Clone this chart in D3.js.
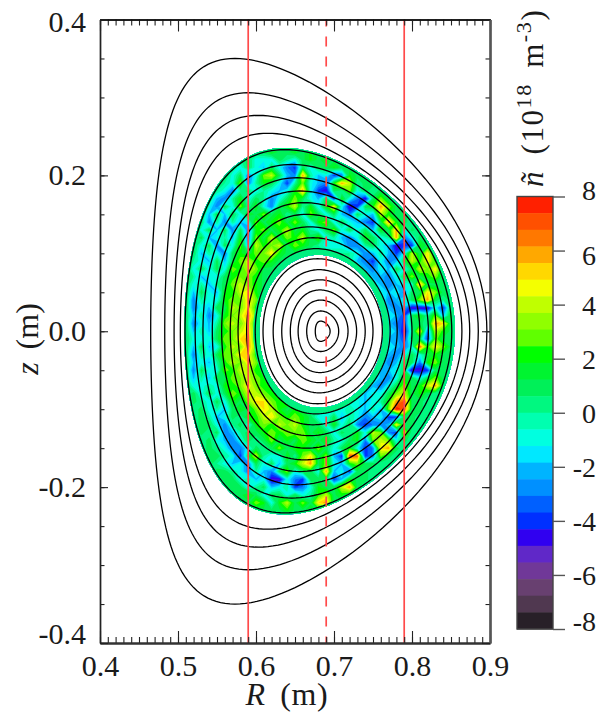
<!DOCTYPE html>
<html><head><meta charset="utf-8">
<script src="https://cdn.jsdelivr.net/npm/d3@7"></script>
<style>html,body{margin:0;background:#fff}svg{display:block}text{font-family:"Liberation Serif",serif;fill:#1a1a1a}</style>
</head><body><svg id="c" width="599" height="715"></svg>
<script>
// Flux surfaces, outer to inner (metres)
const ringLeftR  = [.465,.483,.495,.503,.509,.522,.532,.544,.556,.567,.577,.588,.599,.609,.622,.633,.644,.654,.665,.676];
const ringRightR = [.896,.885,.874,.864,.851,.841,.831,.821,.810,.800,.791,.781,.772,.762,.750,.740,.729,.718,.706,.695];
const ringTopZ   = [.350,.306,.277,.254,.233,.214,.197,.180,.165,.150,.134,.120,.106,.093,.079,.066,.053,.040,.026,.013];
const ringPeakR  = [.573,.590,.603,.615,.637,.646,.653,.656,.662,.665,.669,.673,.677,.679,.681,.682,.682,.683,.683,.683];
// Edges of the coloured region: [left R, right R, top z, R at top]
const fieldOuterEdge = [.508,.855,.235,.637];
const fieldInnerEdge = [.604,.763,.098,.680];
// Chords
const chordsSolid = [.59,.79];
const chordsDashed = [.69];
// Ticks
const xMajor = [.4,.5,.6,.7,.8,.9];
const yMajor = [-.4,-.2,0,.2,.4];
const barTicks = [8,6,4,2,0,-2,-4,-6,-8];
// Colour bar bands, top (high) to bottom (low)
const bandColors = ["#ff2000","#ff5000","#ff7800","#ffa800","#ffd800","#f4ff00","#c0ff00","#90ff00","#60ff00","#00ff00","#00f430","#00f058","#00f880","#00ffb0","#00ffe0","#00e8ff","#00b4ff","#0090ff","#0060ff","#0030ff","#3000f0","#6028c8","#703898","#684070","#503850","#282028"];
// Density field: rows from z=+0.24 down in 0.01 m steps, columns from R=0.51 in 0.01 m steps
const fieldR0 = .51, fieldZ0 = .24, fieldStep = .01, fieldCols = 36;
const fieldRows = [
[],
[0,0,0,0,0,0,0,0,1,1,1,2,1,1,2,1,2,1,1],
[0,0,0,0,0,0,1,0,1,-1,-1,-1,1,0,-1,1,2,1,2,1,1],
[0,0,0,0,0,1,0,-1,1,-1,-2,1,-1,-3,-4,1,-1,1,1,2,1,1],
[0,0,0,0,1,1,-1,1,-3,-1,3,4,1,-2,-3,6,0,-2,-1,-4,-3,2,1,1],
[0,0,0,0,1,0,-1,3,-3,0,2,1,-1,-4,0,3,-1,-2,-3,2,6,4,0,1,1],
[0,0,0,1,0,-1,-3,0,1,-1,0,-1,-2,-1,2,6,-1,-4,-5,1,0,3,-1,1,0,1],
[0,0,0,0,-2,-3,0,2,-1,1,0,-3,-1,1,3,1,-1,-2,1,-4,2,-1,-3,-5,1,3,1],
[0,0,1,-1,-3,1,-1,3,0,2,-1,-3,1,2,4,0,2,-1,2,5,-1,-5,-4,1,2,6,3,1],
[0,0,0,-2,1,-2,1,-1,2,1,3,1,2,0,1,-1,3,1,-1,1,-2,-3,1,-1,-2,4,2,1,1],
[0,0,1,-3,0,-3,0,-2,-1,3,1,2,3,1,3,1,-1,2,3,-1,1,-1,-2,-3,-4,1,6,2,1],
[0,1,-1,1,-2,1,-3,1,-3,2,3,1,2,4,1,2,0,-1,1,3,-1,1,-1,1,-2,2,1,6,-1,1],
[0,0,1,-2,-1,0,-2,2,-3,3,1,4,1,3,2,4,1,3,-1,0,-2,-3,-1,2,1,-1,0,6,-3,-1,1],
[0,1,-1,1,-3,1,-1,3,-2,4,2,3,4,1,3,2,1,0,-1,-1,-1,-3,-3,0,1,-1,-2,-5,-4,-4,2,1],
[1,1,-2,0,-1,-3,1,2,1,3,3,5,2,1,1,0,0,0,0,0,0,0,-1,-3,-2,0,-2,-4,-1,4,1,5,1],
[1,0,-1,-2,1,-2,1,3,4,2,3,2,1,0,0,0,0,0,0,0,0,0,-2,-3,-4,-1,-3,-2,1,4,2,5,2],
[1,-1,1,-1,1,-1,3,2,4,3,1,1,0,0,0,0,0,0,0,0,0,0,0,-2,-3,-1,-2,1,-1,1,4,3,5,1],
[1,0,-2,-1,-1,1,2,3,3,2,1,0,0,0,0,0,0,0,0,0,0,0,0,0,-2,-2,-3,-1,1,3,1,2,3,1],
[1,-1,0,-2,0,1,3,4,3,2,1,0,0,0,0,0,0,0,0,0,0,0,0,0,-1,-2,-3,-2,-1,-1,6,1,1,1],
[1,-2,1,-1,-2,2,2,4,5,2,1,0,0,0,0,0,0,0,0,0,0,0,0,0,0,-1,-2,-1,-3,1,1,5,3,1,1],
[1,-3,0,-1,-1,2,3,3,5,3,1,0,0,0,0,0,0,0,0,0,0,0,0,0,0,0,-3,-2,-1,1,3,6,1,0,1],
[1,-3,-1,-2,1,1,4,3,5,2,1,0,0,0,0,0,0,0,0,0,0,0,0,0,0,-1,-2,-3,-2,-5,-5,-5,-1,-4,1],
[1,-2,0,-3,-1,2,3,4,6,3,1,0,0,0,0,0,0,0,0,0,0,0,0,0,0,-1,-1,-2,-4,1,2,0,3,-2,2],
[1,-3,-1,-2,0,3,4,3,5,2,1,0,0,0,0,0,0,0,0,0,0,0,0,0,0,-1,-2,-3,-4,1,1,0,6,5,1],
[1,-2,0,-2,1,2,3,4,5,3,1,0,0,0,0,0,0,0,0,0,0,0,0,0,0,-1,-1,-2,-5,0,5,-3,4,2,1],
[1,-1,-1,-1,1,3,3,5,6,2,1,0,0,0,0,0,0,0,0,0,0,0,0,0,0,-1,-2,-2,-4,1,1,-4,3,1,1],
[1,-2,1,-2,-1,2,4,3,6,3,1,0,0,0,0,0,0,0,0,0,0,0,0,0,0,0,-1,-2,-3,-1,7,2,5,3,1],
[1,-3,0,-1,1,3,3,5,5,2,1,0,0,0,0,0,0,0,0,0,0,0,0,0,0,-1,-2,-3,-1,1,-1,1,2,1,1],
[1,-2,-1,-2,0,2,4,3,5,3,1,1,0,0,0,0,0,0,0,0,0,0,0,0,0,-1,-3,-2,1,1,-3,2,3,1,1],
[1,-3,1,-1,-1,3,2,4,4,2,2,1,0,0,0,0,0,0,0,0,0,0,0,0,-1,-2,-2,-1,1,-5,-5,-4,1,1],
[0,-2,0,-2,1,1,3,3,4,3,2,1,0,0,0,0,0,0,0,0,0,0,0,0,-1,-2,-3,-1,2,1,-1,1,3,1],
[1,-1,-1,0,-1,2,2,3,5,3,2,2,1,0,0,0,0,0,0,0,0,0,0,-1,-2,-3,-1,1,3,1,2,4,6,1],
[0,1,-1,1,-1,1,3,2,4,4,3,2,2,1,0,0,0,0,0,0,0,0,-1,-2,-1,-1,1,3,4,1,2,1],
[0,1,0,-1,1,-1,2,1,3,5,5,3,2,3,1,0,0,0,0,0,0,-1,-1,-2,-1,0,2,6,7,1,1],
[0,0,1,-1,0,-2,1,2,1,3,5,4,2,1,2,1,0,0,0,-1,-1,0,-1,-2,0,-2,3,8,7,1,1],
[0,0,1,0,-2,-1,1,0,2,2,4,5,3,2,3,2,1,-1,-1,1,-2,0,-1,-3,-2,-1,-4,-4,1,1],
[0,0,1,1,-1,-3,0,1,-1,2,3,2,4,3,4,2,1,1,-1,2,-1,1,-3,-4,-3,-3,-2,5,1,1],
[0,0,1,0,1,-3,-2,0,1,1,2,3,2,3,3,3,1,2,1,-1,1,0,2,-1,4,3,-3,-4,4],
[0,0,0,1,-1,-2,-3,-1,1,0,1,3,1,2,1,3,2,1,2,0,-1,1,2,-3,3,4,3,-1,1],
[0,0,0,1,0,-1,-3,-3,-1,1,0,1,3,1,2,2,1,3,1,-1,1,2,-1,-4,-3,5,6,1],
[0,0,0,1,1,0,-1,-4,1,4,0,-1,-1,2,0,3,5,1,3,-2,-4,7,7,-4,-3,3,1],
[0,0,0,1,0,-1,-2,-1,-3,1,-1,1,-2,1,2,4,6,1,3,-1,-2,2,3,1,1],
[0,0,0,0,1,1,0,-1,-3,0,-2,-3,1,3,-1,1,1,-1,6,-2,-1,-4,1,1],
[0,0,0,0,0,1,1,-1,0,-2,-1,-5,-5,-1,-3,-4,1,1,1,-4,-2,2,1,1],
[0,0,0,0,0,1,1,1,-1,0,1,-2,-1,0,-4,-3,-1,2,1,1,4,6,1],
[0,0,0,0,0,0,1,1,2,1,-1,1,1,-1,1,-1,0,2,4,1,2,1],
[0,0,0,0,0,0,0,1,1,3,2,-1,2,4,1,3,1,5,6,1,1],
[0,0,0,0,0,0,0,0,0,1,1,1,1,2,1,1,2,1,1],
[]
];

const svg = d3.select("#c");
const x = d3.scaleLinear([.4,.9],[100,490]);
const y = d3.scaleLinear([-.4,.4],[643,19.5]);
const FS = 30;

// Closed D-shaped surface through the four read values
const thetas = d3.range(0,2*Math.PI,Math.PI/90);
const surface = d3.line().x(d=>x(d[0])).y(d=>y(d[1])).curve(d3.curveLinearClosed);
function ringPath(l,r,t,p){
  const R0=(l+r)/2,a=(r-l)/2,delta=Math.asin((R0-p)/a),k=t/a;
  return surface(thetas.map(th=>[R0+a*Math.cos(th+delta*Math.sin(th)),k*a*Math.sin(th)]));
}
const outerD = ringPath(...fieldOuterEdge), innerD = ringPath(...fieldInnerEdge);

// Field
const defs = svg.append("defs");
defs.append("clipPath").attr("id","ann").append("path").attr("clip-rule","evenodd").attr("d",outerD+innerD);
const bands = d3.scaleQuantize().domain([-8,8]).range(bandColors.slice().reverse());
const ny = fieldRows.length;
const flat = [];
for(let j=0;j<ny;j++)for(let i=0;i<fieldCols;i++)flat.push(fieldRows[j][i]??0);
const levels = [-8,...bands.thresholds()];
const contours = d3.contours().size([fieldCols,ny]).smooth(true).thresholds(levels)(flat);
const gridProj = d3.geoTransform({point(gx,gy){
  this.stream.point(x(fieldR0+(gx-.5)*fieldStep),y(fieldZ0-(gy-.5)*fieldStep));
}});
const geo = d3.geoPath(gridProj);
const field = svg.append("g").attr("clip-path","url(#ann)");
field.append("path").attr("d",outerD).attr("fill",bands(0.3));
field.selectAll("path.b").data(contours).join("path").attr("class","b")
  .attr("d",geo).attr("fill",d=>bands(d.value+.01));
field.append("path").attr("d",outerD).attr("fill","none").attr("stroke","#00f080").attr("stroke-width",5);
field.append("path").attr("d",innerD).attr("fill","none").attr("stroke","#00f080").attr("stroke-width",12);

// Rings
svg.append("g").selectAll("path").data(ringLeftR).join("path")
  .attr("d",(l,i)=>ringPath(l,ringRightR[i],ringTopZ[i],ringPeakR[i]))
  .attr("fill","none").attr("stroke","#000").attr("stroke-width",1.3);

// Chords
const red="#ff4a4a";
svg.append("g").selectAll("line").data(chordsSolid).join("line")
  .attr("x1",d=>x(d)).attr("x2",d=>x(d)).attr("y1",y(.4)).attr("y2",y(-.4))
  .attr("stroke",red).attr("stroke-width",1.7);
svg.append("g").selectAll("line").data(chordsDashed).join("line")
  .attr("x1",d=>x(d)).attr("x2",d=>x(d)).attr("y1",y(.4)).attr("y2",y(-.4))
  .attr("stroke",red).attr("stroke-width",1.7).attr("stroke-dasharray","10 10").attr("stroke-dashoffset",3);

// Axes
const xMinor = d3.range(40,91).map(d=>d/100);
const yMinor = d3.range(-8,9).map(d=>d/20);
const fmt = d=>d3.format(".1f")(d).replace("−","-");
function frame(axisFn,pos,scale,minor,major,mLen,MLen,stroke,sw){
  const g=svg.append("g").attr("transform",pos);
  g.append("g").call(axisFn(scale).tickValues(minor).tickSizeOuter(0).tickSizeInner(mLen).tickFormat(""));
  g.append("g").call(axisFn(scale).tickValues(major).tickSizeOuter(0).tickSizeInner(MLen).tickFormat(""));
  g.selectAll("path.domain").attr("stroke",stroke).attr("stroke-width",sw);
  g.selectAll(".tick line").attr("stroke","#222").attr("stroke-width",1.1);
}
frame(d3.axisBottom,`translate(0,${y(.4)})`,x,xMinor,xMajor,6,12,"#111",1.4);
frame(d3.axisTop,`translate(0,${y(-.4)})`,x,xMinor,xMajor,6,12,"#333",2);
frame(d3.axisRight,`translate(${x(.4)},0)`,y,yMinor,yMajor,4.5,8,"#222",1.4);
frame(d3.axisLeft,`translate(${x(.9)},0)`,y,yMinor,yMajor,4.5,8,"#555",2.2);

// Tick labels
const xl=svg.append("g").attr("transform",`translate(0,${y(-.4)})`)
  .call(d3.axisBottom(x).tickValues(xMajor).tickFormat(fmt).tickSize(0));
xl.select(".domain").remove();
xl.selectAll("text").attr("y",33).attr("dy",0).attr("font-size",FS).attr("font-family","Liberation Serif").attr("fill","#1a1a1a");
const yl=svg.append("g").attr("transform",`translate(${x(.4)},0)`)
  .call(d3.axisLeft(y).tickValues(yMajor).tickFormat(fmt).tickSize(0));
yl.select(".domain").remove();
yl.selectAll("text").attr("x",-14).attr("dy",0).attr("font-size",FS).attr("font-family","Liberation Serif").attr("fill","#1a1a1a")
  .attr("y",d=>d===.4?12:d===-.4?0:9);

// Axis titles
const xT=svg.append("text").attr("x",287).attr("y",705).attr("text-anchor","middle").attr("font-size",32).attr("word-spacing",6).attr("letter-spacing",.6);
xT.append("tspan").attr("font-style","italic").text("R");xT.append("tspan").text(" (m)");
const yT=svg.append("text").attr("transform","translate(38,339) rotate(-90)").attr("text-anchor","middle").attr("font-size",32).attr("word-spacing",5);
yT.append("tspan").attr("font-style","italic").text("z");yT.append("tspan").text(" (m)");

// Colour bar
const by = d3.scaleLinear([-8,8],[629,196.5]);
const bandH=(by(-8)-by(8))/bandColors.length;
const bar=svg.append("g");
bar.selectAll("rect").data(bandColors).join("rect")
  .attr("x",517).attr("width",36).attr("y",(d,i)=>by(8)+i*bandH).attr("height",bandH+.5).attr("fill",d=>d);
bar.append("rect").attr("x",517).attr("y",by(8)).attr("width",36).attr("height",by(-8)-by(8))
  .attr("fill","none").attr("stroke","#444").attr("stroke-width",1.4);
const ba=svg.append("g").attr("transform","translate(553,0)")
  .call(d3.axisRight(by).tickValues(barTicks).tickFormat(d=>String(d)).tickSize(12).tickSizeOuter(0));
ba.select(".domain").remove();
ba.selectAll("line").attr("stroke","#555").attr("stroke-width",1.4);
ba.selectAll("text").attr("text-anchor","end").attr("x",43).attr("dy",0).attr("font-size",FS-2)
  .attr("font-family","Liberation Serif").attr("fill","#1a1a1a")
  .attr("y",d=>d===8?2.5:d===-8?1.5:d===6?14:9.5);
const cT=svg.append("text").attr("transform","translate(543,187) rotate(-90)").attr("font-size",31).attr("letter-spacing",1.6).attr("word-spacing",6);
cT.append("tspan").attr("font-style","italic").text("ñ");
cT.append("tspan").text(" (10");
cT.append("tspan").attr("font-size",22).attr("dy",-12).text("18");
cT.append("tspan").attr("dy",12).text(" m");
cT.append("tspan").attr("font-size",22).attr("dy",-12).text("-3");
cT.append("tspan").attr("dy",12).text(")");
</script></body></html>
